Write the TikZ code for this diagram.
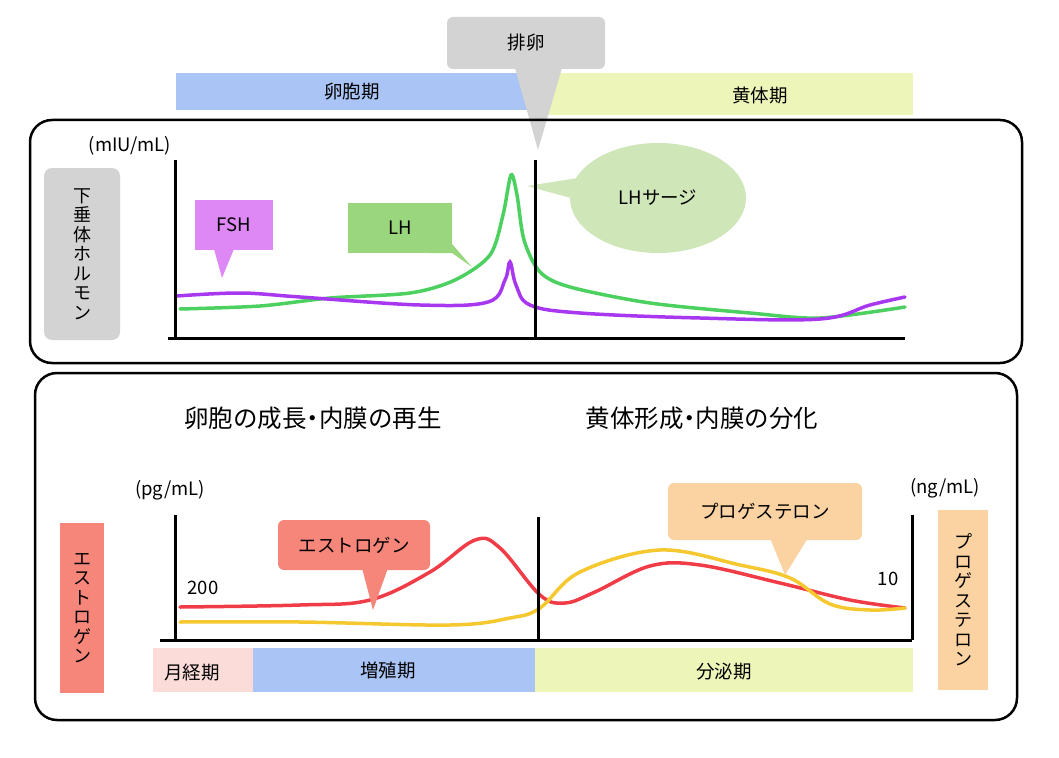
\documentclass[tikz,border=0pt]{standalone}
\usepackage{fontspec}
\setmainfont{Noto Sans CJK JP}
\usetikzlibrary{shapes.geometric}
\definecolor{bblue}{HTML}{A9C4F5}
\definecolor{byel}{HTML}{EEF5B8}
\definecolor{bgray}{HTML}{D3D3D3}
\definecolor{fshc}{HTML}{DD88F5}
\definecolor{lhc}{HTML}{9AD67E}
\definecolor{surge}{HTML}{CFE6B8}
\definecolor{estc}{HTML}{F7867A}
\definecolor{proc}{HTML}{FBD3A3}
\definecolor{pinkc}{HTML}{FBDCD8}
\definecolor{gline}{HTML}{4CD060}
\definecolor{pline}{HTML}{A838F0}
\definecolor{rline}{HTML}{F03C46}
\definecolor{yline}{HTML}{F5C830}
\begin{document}
\begin{tikzpicture}[x=1pt,y=-1pt,
 lbl/.style={font=\fontsize{18.5}{20}\selectfont},
 big/.style={font=\fontsize{24.5}{26}\selectfont},
 vtxt/.style={font=\fontsize{18}{19.5}\selectfont,align=center},
 panel/.style={draw,line width=2.5pt,rounded corners=22pt},
 axis/.style={line width=3pt},
 curve/.style={line width=3.5pt,line cap=round}]
\useasboundingbox (0,0) rectangle (1059,757);
% top bars
\fill[bblue] (176,73) rectangle (528,110);
\node[lbl] (fol) at (352,92) {卵胞期};
\fill[byel] (528,73) rectangle (913,115);
\node[lbl] (lut) at (760,96) {黄体期};
% ovulation callout
\fill[bgray,rounded corners=6pt] (447,17) rectangle (605,69);
\fill[bgray] (515,68) -- (538,150) -- (562,68) -- cycle;
\node[lbl] (ov) at (526,43) {排卵};
% top panel
\draw[panel] (30,120) rectangle (1022,363);
\node[lbl] (u1) at (130,146) {(mIU/mL)};
\fill[bgray,rounded corners=8pt] (44,168) rectangle (120,340);
\node[vtxt] (pit) at (82,254) {下\\垂\\体\\ホ\\ル\\モ\\ン};
% callouts
\fill[fshc] (195,200) rectangle (273,250);
\fill[fshc] (214,249) -- (222,278) -- (234,249) -- cycle;
\node[lbl] (fsh) at (234,225) {FSH};
\fill[lhc] (348,203) rectangle (452,253);
\fill[lhc] (440,230) -- (472,267) -- (452,253) -- (430,253) -- cycle;
\node[lbl] (lh) at (400,228) {LH};
\fill[surge] (658,198) ellipse [x radius=88, y radius=55];
\fill[surge] (578,178) -- (527,186) -- (578,200) -- cycle;
\node[lbl] (ls) at (658,198) {LHサージ};
% curves
\draw[curve,gline] plot[smooth,tension=0.5] coordinates {(180,309) (260,306) (330,298) (410,293) (455,280) (490,255) (503,215) (511,175) (517,195) (524,240) (540,272) (570,287) (650,303) (750,313) (820,318) (905,307)};
\draw[curve,pline] plot[smooth,tension=0.6] coordinates {(177,296) (240,293) (300,297) (420,305) (488,302) (505,280) (510,262) (516,285) (530,305) (580,313) (700,318) (820,319) (870,305) (905,297)};
% axes
\draw[axis] (175,160) -- (175,338);
\draw[axis] (168,338) -- (905,338);
\draw[axis] (535,160) -- (535,338);
% bottom panel
\draw[panel] (35,373) rectangle (1017,720);
\node[big] (t1) at (313,418) {卵胞の成長\kern-0.25em・\kern-0.25em内膜の再生};
\node[big] (t2) at (702,418) {黄体形成\kern-0.25em・\kern-0.25em内膜の分化};
\node[lbl] (u2) at (170,490) {(pg/mL)};
\node[lbl] (u3) at (945,488) {(ng/mL)};
\fill[estc] (60,523) rectangle (104,693);
\node[vtxt] (es) at (82,608) {エ\\ス\\ト\\ロ\\ゲ\\ン};
\fill[proc] (938,510) rectangle (988,690);
\node[vtxt] (pr) at (963,600) {プ\\ロ\\ゲ\\ス\\テ\\ロ\\ン};
\node[lbl] (n200) at (203,588) {200};
\node[lbl] (n10) at (888,579) {10};
% curves bottom
\draw[curve,rline] plot[smooth,tension=0.6] coordinates {(180,607) (300,605) (370,600) (430,572) (475,540) (500,548) (540,595) (565,603) (595,592) (650,566) (700,565) (780,583) (850,600) (905,608)};
\draw[curve,yline] plot[smooth,tension=0.6] coordinates {(180,622) (300,622) (450,625) (510,618) (540,608) (580,572) (660,550) (740,565) (790,578) (830,604) (870,610) (905,608)};
\fill[estc,rounded corners=6pt] (278,520) rectangle (430,570);
\fill[estc] (362,568) -- (373,610) -- (388,568) -- cycle;
\node[lbl] (esl) at (354,545) {エストロゲン};
\fill[proc,rounded corners=6pt] (668,483) rectangle (862,540);
\fill[proc] (770,538) -- (785,575) -- (808,538) -- cycle;
\node[lbl] (prl) at (765,511) {プロゲステロン};
% axes bottom
\draw[axis] (175,515) -- (175,640);
\draw[axis] (160,640) -- (912,640);
\draw[axis] (538,517) -- (538,640);
\draw[axis] (912,515) -- (912,640);
% bottom bars
\fill[pinkc] (153,648) rectangle (253,692);
\node[lbl] (m1) at (192,672) {月経期};
\fill[bblue] (253,648) rectangle (535,692);
\node[lbl] (m2) at (388,670) {増殖期};
\fill[byel] (535,648) rectangle (913,692);
\node[lbl] (m3) at (724,672) {分泌期};
\end{tikzpicture}
\end{document}
